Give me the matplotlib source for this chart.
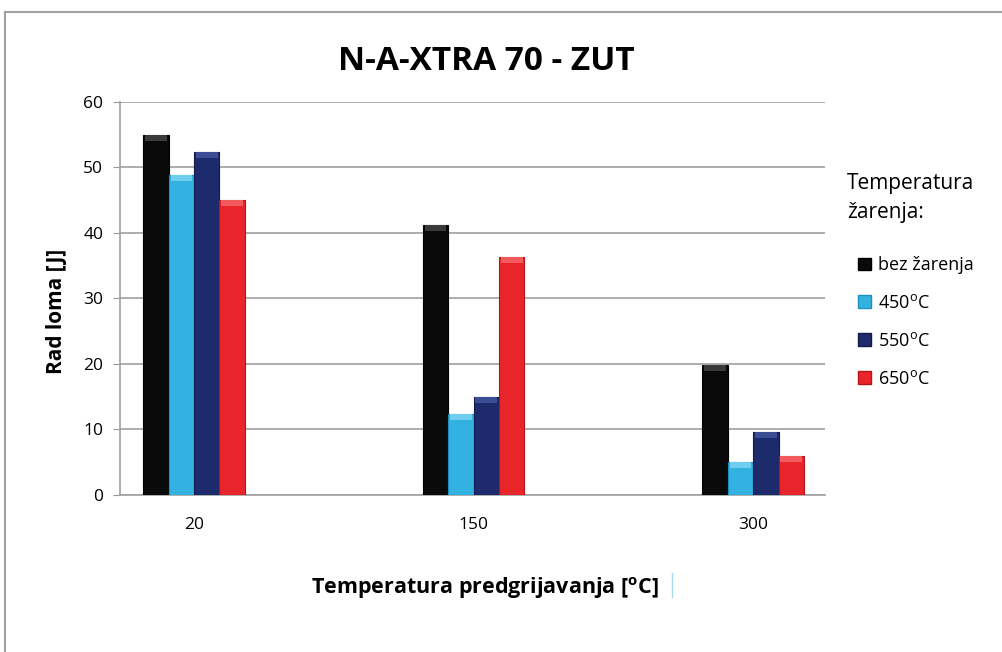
import matplotlib.pyplot as plt
import numpy as np
from matplotlib.lines import Line2D
from matplotlib.patches import Patch

plt.rcParams["font.family"] = ["Open Sans", "DejaVu Sans"]

categories = ["20", "150", "300"]
series = ["bez žarenja", "450$^\\mathregular{o}$C", "550$^\\mathregular{o}$C", "650$^\\mathregular{o}$C"]
bez_zarenja = [55.0, 41.2, 19.8]
t450 = [48.8, 12.4, 5.0]
t550 = [52.4, 15.0, 9.6]
t650 = [45.0, 36.3, 6.0]
colors = ["#0a0a0a", "#33b2e2", "#1d2a6c", "#e8252a"]
tops = ["#3a3a3a", "#6fcdf0", "#3b4d94", "#f25a5d"]
edges = ["#000000", "#1f8fbf", "#111a4a", "#b81418"]


def main():
    fig = plt.figure(figsize=(10.03, 6.52), dpi=100)
    ax = fig.add_axes([0.1196, 0.2408, 0.7029, 0.6028])

    x = np.arange(len(categories))
    w = 0.091
    values = [bez_zarenja, t450, t550, t650]
    for i, vals in enumerate(values):
        pos = x + (i - 1.5) * w
        ax.bar(pos, vals, width=w, color=colors[i],
               edgecolor=edges[i], linewidth=0.8, zorder=3)
        # light bevel at the top of each bar
        ax.bar(pos, [0.9] * len(vals), bottom=np.array(vals) - 0.9,
               width=w * 0.85, color=tops[i], linewidth=0, zorder=4)

    ax.set_xlim(-0.265, 2.257)
    ax.set_ylim(0, 60)
    ax.set_yticks(range(0, 61, 10))
    ax.set_xticks(x)
    ax.set_xticklabels(categories)
    ax.tick_params(axis="x", length=0, pad=16, labelsize=12.5)
    ax.tick_params(axis="y", length=5, color="#999999", pad=7, labelsize=12.5)
    ax.yaxis.grid(True, color="#a0a0a0", linewidth=1.2, zorder=0)
    for s in ["top", "right"]:
        ax.spines[s].set_visible(False)
    for s in ["left", "bottom"]:
        ax.spines[s].set_color("#a0a0a0")
        ax.spines[s].set_linewidth(1.2)

    ax.set_ylabel("Rad loma [J]", fontsize=15, fontweight="bold", labelpad=12)
    ax.yaxis.label.set_y(0.468)
    ax.set_xlabel("Temperatura predgrijavanja [$^\\mathregular{o}$C]",
                  fontsize=15.5, fontweight="bold", labelpad=30)
    ax.xaxis.label.set_x(0.518)
    fig.text(0.485, 0.905, "N-A-XTRA 70 - ZUT", ha="center", va="center",
             fontsize=24, fontweight="bold")

    # legend title drawn separately so it sits further above the entries
    fig.text(847 / 1003, 1 - 198 / 652, "Temperatura\nžarenja:", ha="left",
             va="center", fontsize=15, linespacing=1.45)
    handles = [Patch(facecolor=c, edgecolor=e) for c, e in zip(colors, edges)]
    fig.legend(handles, series, loc="upper left",
               bbox_to_anchor=(851 / 1003, 1 - 249 / 652), frameon=False,
               fontsize=13, handlelength=0.7, handleheight=0.7,
               handletextpad=0.4, labelspacing=1.1, borderaxespad=0)

    # outer frame of the chart area
    fig.add_artist(Line2D([5 / 1003, 1], [1 - 12 / 652, 1 - 12 / 652],
                          color="#a0a0a0", linewidth=1.5))
    fig.add_artist(Line2D([5 / 1003, 5 / 1003], [0, 1 - 12 / 652],
                          color="#a0a0a0", linewidth=1.5))
    # small text cursor after the axis title
    fig.add_artist(Line2D([672 / 1003, 672 / 1003], [1 - 597 / 652, 1 - 573 / 652],
                          color="#a8d8ee", linewidth=1))

    fig.savefig("out.png", dpi=100)


if __name__ == "__main__":
    main()
